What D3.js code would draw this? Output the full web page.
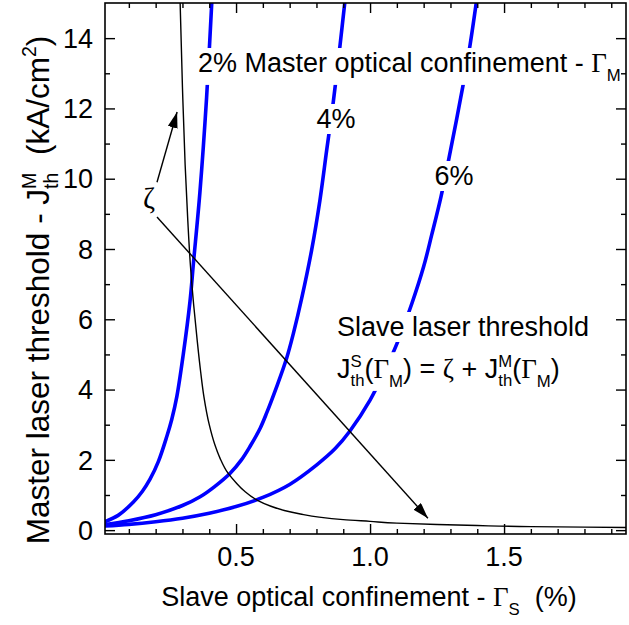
<!DOCTYPE html>
<html><head><meta charset="utf-8">
<script src="https://cdn.jsdelivr.net/npm/d3@7"></script>
<style>body{margin:0;background:#fff} text{white-space:pre}</style>
</head><body>
<svg id="chart" width="629" height="625"></svg>
<script>
// ---- data (Slave optical confinement Γs in %, Master threshold J in kA/cm²) ----
const master2 = [[0.01,0.24],[0.06,0.42],[0.117,0.80],[0.15,1.10],[0.179,1.45],[0.21,1.95],[0.241,2.65],[0.26,3.15],[0.279,3.8],[0.303,5.0],[0.328,6.5],[0.341,7.6],[0.365,9.6],[0.39,12.3],[0.41,15.1]];
const master4 = [[0.01,0.16],[0.10,0.27],[0.20,0.44],[0.30,0.70],[0.366,0.95],[0.42,1.24],[0.478,1.62],[0.52,2.0],[0.552,2.38],[0.59,2.9],[0.615,3.35],[0.65,4.05],[0.689,4.9],[0.714,5.6],[0.745,6.6],[0.782,7.97],[0.813,9.39],[0.838,10.8],[0.863,12.2],[0.888,13.8],[0.907,15.1]];
const master6 = [[0.01,0.12],[0.10,0.165],[0.20,0.24],[0.30,0.34],[0.40,0.48],[0.50,0.67],[0.60,0.93],[0.70,1.3],[0.80,1.85],[0.87,2.32],[0.925,2.82],[1.0,3.7],[1.05,4.45],[1.10,5.3],[1.156,6.45],[1.20,7.5],[1.23,8.4],[1.265,9.5],[1.30,10.8],[1.348,12.7],[1.373,13.8],[1.398,15.1]];
const slaveZeta = [[0.291,15.1],[0.300,12.6],[0.310,10.4],[0.320,8.8],[0.330,7.5],[0.342,6.4],[0.355,5.4],[0.368,4.5],[0.38,3.8],[0.40,3.0],[0.42,2.45],[0.44,2.05],[0.47,1.62],[0.50,1.35],[0.53,1.12],[0.58,0.85],[0.63,0.68],[0.68,0.56],[0.74,0.46],[0.81,0.37],[0.90,0.30],[1.0,0.25],[1.1,0.20],[1.25,0.16],[1.4,0.13],[1.6,0.10],[1.8,0.085],[1.955,0.075]];
const curveLabels = ["2%","4%","6%"];
const xMajorTicks = [0.5,1.0,1.5];
const xMinorTicks = [0.1,0.2,0.3,0.4,0.6,0.7,0.8,0.9,1.1,1.2,1.3,1.4,1.6,1.7,1.8,1.9];
const yMajorTicks = [0,2,4,6,8,10,12,14];
const yMinorTicks = [1,3,5,7,9,11,13];
// arrows from the ζ label (data coordinates)
const arrows = [[[0.205,9.90],[0.280,11.9]],[[0.205,8.91],[1.216,0.34]]];

const SANS = "'Liberation Sans', Arial, sans-serif";
const SERIF = "'Liberation Serif', 'Times New Roman', serif";
const FS = 27;

const svg = d3.select("#chart");
const L = 105, R = 626, T = 3, B = 534;
const x = d3.scaleLinear().domain([0.011, 1.955]).range([L, R]);
const y = d3.scaleLinear().domain([-0.11, 15.0]).range([B, T]);

svg.append("defs").append("clipPath").attr("id","clip")
  .append("rect").attr("x",L).attr("y",T).attr("width",R-L).attr("height",B-T);
const mk = svg.select("defs").append("marker").attr("id","arr")
  .attr("markerUnits","userSpaceOnUse").attr("viewBox","0 0 16 10")
  .attr("refX",16).attr("refY",5).attr("markerWidth",16).attr("markerHeight",10)
  .attr("orient","auto");
mk.append("path").attr("d","M0,0 L16,5 L0,10 Z").attr("fill","#000");

const plot = svg.append("g").attr("clip-path","url(#clip)");
const line = d3.line().x(d=>x(d[0])).y(d=>y(d[1])).curve(d3.curveCatmullRom.alpha(0.5));
[master2, master4, master6].forEach(s => {
  plot.append("path").datum(s).attr("d", line).attr("fill","none")
    .attr("stroke","#0000ff").attr("stroke-width",3.6);
});
plot.append("path").datum(slaveZeta).attr("d", d3.line().x(d=>x(d[0])).y(d=>y(d[1])).curve(d3.curveMonotoneY))
  .attr("fill","none").attr("stroke","#000").attr("stroke-width",1.4);

// rich text helper
function rich(parent, segs, fs) {
  const g = parent.append("g");
  let cx = 0;
  segs.forEach(s => {
    if (s.stack) {
      const a = g.append("text").attr("x",cx).attr("y",-fs*0.40).style("font-family",SANS).style("font-size",(fs*0.62)+"px").text(s.stack[0]);
      const b = g.append("text").attr("x",cx).attr("y",fs*0.30).style("font-family",SANS).style("font-size",(fs*0.62)+"px").text(s.stack[1]);
      cx += Math.max(a.node().getComputedTextLength(), b.node().getComputedTextLength());
    } else {
      const t = g.append("text").attr("x",cx).attr("y",(s.dy||0)*fs)
        .style("font-family", s.serif?SERIF:SANS).style("font-size",((s.sc||1)*fs)+"px").text(s.t);
      cx += t.node().getComputedTextLength();
    }
  });
  return {g, width: cx};
}
function boxed(segs, fs, px, py, anchor) {
  const holder = svg.append("g");
  const bg = holder.append("rect").attr("fill","#fff");
  const r = rich(holder, segs, fs);
  const off = anchor === "middle" ? -r.width/2 : 0;
  r.g.attr("transform", `translate(${px+off},${py})`);
  const bb = r.g.node().getBBox();
  bg.attr("x", px+off+bb.x-1).attr("y", py+bb.y).attr("width", bb.width+2).attr("height", bb.height);
  return holder;
}

// annotations
boxed([{t:curveLabels[0]+" Master optical confinement - "},{t:"Γ",serif:true},{t:"M",sc:0.62,dy:0.33}], FS, 198, 72);
boxed([{t:curveLabels[1]}], FS, 336, 128, "middle");
boxed([{t:curveLabels[2]}], FS, 454, 185, "middle");
boxed([{t:"Slave laser threshold"}], FS, 337, 336);
boxed([{t:"J"},{stack:["S","th"]},{t:"("},{t:"Γ",serif:true},{t:"M",sc:0.62,dy:0.33},{t:") = "},{t:"ζ",serif:true},{t:" + J"},{stack:["M","th"]},{t:"("},{t:"Γ",serif:true},{t:"M",sc:0.62,dy:0.33},{t:")"}], FS, 337, 378);

// arrows
arrows.forEach(a => {
  svg.append("line").attr("x1",x(a[0][0])).attr("y1",y(a[0][1])).attr("x2",x(a[1][0])).attr("y2",y(a[1][1]))
    .attr("stroke","#000").attr("stroke-width",1.4).attr("marker-end","url(#arr)");
});
svg.append("text").attr("x",149).attr("y",208).attr("text-anchor","middle")
  .style("font-family",SERIF).style("font-size","29px").text("ζ");

// axes
function tickAxis(gen, scale, vals, size, tr) {
  const g = svg.append("g").attr("transform",tr)
    .call(gen(scale).tickValues(vals).tickSize(size).tickFormat(""));
  g.select(".domain").remove();
  g.selectAll(".tick line").attr("stroke","#000").attr("stroke-width",1.4);
  return g;
}
tickAxis(d3.axisBottom, x, xMajorTicks, -10, `translate(0,${B})`);
tickAxis(d3.axisBottom, x, xMinorTicks, -5, `translate(0,${B})`);
tickAxis(d3.axisTop, x, xMajorTicks, -10, `translate(0,${T})`);
tickAxis(d3.axisTop, x, xMinorTicks, -5, `translate(0,${T})`);
tickAxis(d3.axisLeft, y, yMajorTicks, -10, `translate(${L},0)`);
tickAxis(d3.axisLeft, y, yMinorTicks, -5, `translate(${L},0)`);
tickAxis(d3.axisRight, y, yMajorTicks, -10, `translate(${R},0)`);
tickAxis(d3.axisRight, y, yMinorTicks, -5, `translate(${R},0)`);
svg.append("rect").attr("x",L).attr("y",T).attr("width",R-L).attr("height",B-T)
  .attr("fill","none").attr("stroke","#000").attr("stroke-width",1.6);

// tick labels
svg.append("g").selectAll("text").data(xMajorTicks).join("text")
  .attr("x", d=>x(d)).attr("y", 566).attr("text-anchor","middle")
  .style("font-family",SANS).style("font-size",FS+"px").text(d3.format(".1f"));
svg.append("g").selectAll("text").data(yMajorTicks).join("text")
  .attr("x", 93).attr("y", d=>y(d)).attr("dy","0.36em").attr("text-anchor","end")
  .style("font-family",SANS).style("font-size",FS+"px").text(d=>d);

// axis titles
const xl = rich(svg, [{t:"Slave optical confinement - "},{t:"Γ",serif:true},{t:"S",sc:0.62,dy:0.33},{t:"  (%)"}], FS);
xl.g.attr("transform", `translate(${369 - xl.width/2},606)`);
const ylHolder = svg.append("g").attr("transform","translate(49,290) rotate(-90)");
const yl = rich(ylHolder, [{t:"Master laser threshold - J"},{stack:["M","th"]},{t:"  (kA/cm"},{t:"2",sc:0.62,dy:-0.4},{t:")"}], 31.5);
yl.g.attr("transform", `translate(${-yl.width/2},0)`);
</script>
</body></html>
